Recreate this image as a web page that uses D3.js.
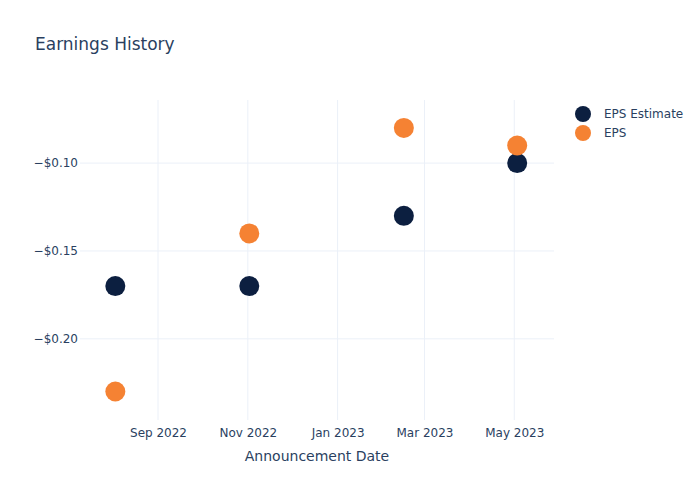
<!DOCTYPE html>
<html><head><meta charset="utf-8">
<script src="https://cdn.jsdelivr.net/npm/d3@7"></script>
<style>body{margin:0;background:#fff}svg{display:block}text{font-family:"DejaVu Sans",sans-serif}</style>
</head><body><svg id="c" width="700" height="500"></svg>
<script>
const dates = ["2022-08-03", "2022-11-02", "2023-02-15", "2023-05-03"];
const epsEstimate = [-0.17, -0.17, -0.13, -0.10];
const eps = [-0.23, -0.14, -0.08, -0.09];
const yTicks = [-0.10, -0.15, -0.20];
const xTickDates = ["2022-09-01", "2022-11-01", "2023-01-01", "2023-03-01", "2023-05-01"];
const seriesNames = ["EPS Estimate", "EPS"];
const colors = ["#0c1f40", "#f58233"];

const svg = d3.select("#c");
const W = 700, H = 500, m = {l: 80, r: 146, t: 100, b: 80};
const parse = d3.timeParse("%Y-%m-%d");
const textColor = "#2a3f5f", gridColor = "#ebf0f8";

const x = d3.scaleTime().domain([parse("2022-07-10"), parse("2023-05-28")]).range([m.l, W - m.r]);
const y = d3.scaleLinear().domain([-0.2462, -0.0641]).range([H - m.b, m.t]);

// grid
svg.append("g").selectAll("line").data(xTickDates.map(parse)).join("line")
  .attr("x1", d => x(d)).attr("x2", d => x(d)).attr("y1", m.t).attr("y2", H - m.b)
  .attr("stroke", gridColor).attr("stroke-width", 1);
svg.append("g").selectAll("line").data(yTicks).join("line")
  .attr("x1", m.l).attr("x2", W - m.r).attr("y1", d => y(d)).attr("y2", d => y(d))
  .attr("stroke", gridColor).attr("stroke-width", 1);

// axes
const fmtY = d => "\u2212$" + Math.abs(d).toFixed(2);
const yAxis = d3.axisLeft(y).tickValues(yTicks).tickFormat(fmtY).tickSize(0).tickPadding(2);
const gy = svg.append("g").attr("transform", `translate(${m.l},0)`).call(yAxis);
gy.select(".domain").remove();
gy.selectAll("text").attr("fill", textColor).attr("font-size", 12).attr("font-family", "DejaVu Sans");

const xAxis = d3.axisBottom(x).tickValues(xTickDates.map(parse)).tickFormat(d3.timeFormat("%b %Y")).tickSize(0).tickPadding(8);
const gx = svg.append("g").attr("transform", `translate(0,${H - m.b})`).call(xAxis);
gx.select(".domain").remove();
gx.selectAll("text").attr("fill", textColor).attr("font-size", 12).attr("font-family", "DejaVu Sans");

// axis title
svg.append("text").attr("x", (m.l + W - m.r) / 2).attr("y", 461).attr("text-anchor", "middle")
  .attr("fill", textColor).attr("font-size", 14).text("Announcement Date");

// title
svg.append("text").attr("x", 35).attr("y", 50).attr("fill", textColor).attr("font-size", 17).text("Earnings History");

// points
const series = [epsEstimate, eps];
series.forEach((vals, si) => {
  svg.append("g").selectAll("circle").data(vals.map((v, i) => ({d: parse(dates[i]), v}))).join("circle")
    .attr("cx", p => x(p.d)).attr("cy", p => y(p.v)).attr("r", 10).attr("fill", colors[si]);
});

// legend
const lg = svg.append("g");
seriesNames.forEach((n, i) => {
  const yy = 114 + i * 19;
  lg.append("circle").attr("cx", 583).attr("cy", yy).attr("r", 8).attr("fill", colors[i]);
  lg.append("text").attr("x", 604).attr("y", yy).attr("dy", "0.35em").attr("fill", textColor).attr("font-size", 12).text(n);
});
</script></body></html>
